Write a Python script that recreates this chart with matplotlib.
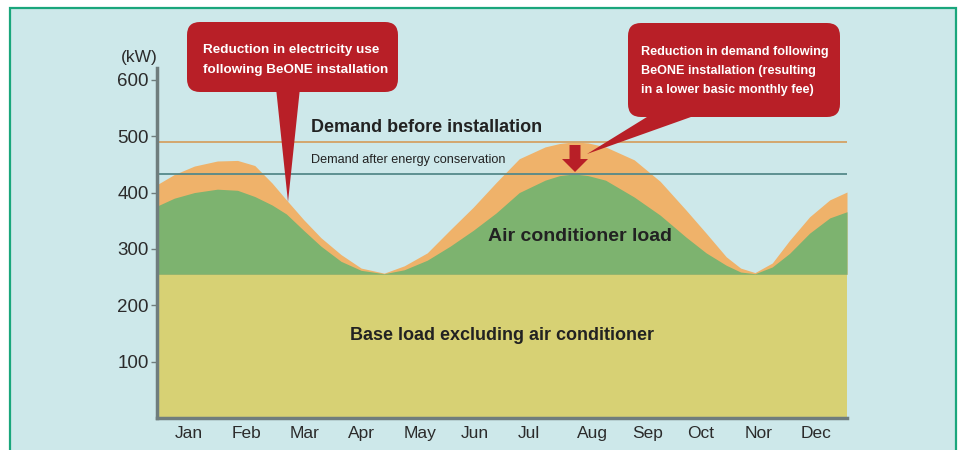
import numpy as np
import matplotlib.pyplot as plt
from matplotlib.patches import FancyBboxPatch, Polygon, Rectangle, FancyArrow

# --- data (x in months from start of Jan, kW) ---
months = ["Jan", "Feb", "Mar", "Apr", "May", "Jun", "Jul", "Aug", "Sep", "Oct", "Nor", "Dec"]
month_pos = [0.55, 1.55, 2.57, 3.55, 4.58, 5.53, 6.47, 7.57, 8.54, 9.45, 10.47, 11.47]

x = [0, 0.3, 0.65, 1.05, 1.4, 1.7, 2.0, 2.25, 2.55, 2.85, 3.2, 3.55, 3.95, 4.3, 4.7,
     5.1, 5.5, 5.9, 6.3, 6.75, 7.0, 7.25, 7.5, 7.8, 8.3, 8.75, 9.2, 9.55, 9.9, 10.15, 10.4,
     10.7, 11.0, 11.35, 11.7, 12.0]
ac_top = [376, 390, 400, 406, 404, 393, 378, 362, 333, 305, 278, 262, 256, 263, 280,
          305, 333, 364, 400, 422, 430, 433, 430, 422, 392, 360, 321, 293, 271, 259, 256,
          268, 292, 328, 355, 366]
demand_top = [414, 432, 447, 456, 457, 448, 417, 387, 352, 320, 290, 266, 257, 270, 293,
              334, 374, 418, 460, 481, 487, 490, 488, 481, 458, 420, 369, 328, 286, 266, 258,
              275, 315, 357, 387, 401]
base_load = 255
demand_before = 490
demand_after = 433
yticks = [100, 200, 300, 400, 500, 600]

bg = "#cde8ea"
red = "#b81f27"
font = "Liberation Sans"

fig = plt.figure(figsize=(9.58, 4.5), dpi=100)
fig.patch.set_facecolor("white")

# background panel with green frame (pixel coords)
back = fig.add_axes([0, 0, 1, 1], zorder=0)
back.set_xlim(0, 958)
back.set_ylim(450, 0)
back.axis("off")
back.add_patch(Rectangle((10, 8), 946, 450, facecolor=bg, edgecolor="#1aa67c", lw=1.6))

ax = fig.add_axes([157 / 958, 1 - 418 / 450, 690 / 958, 350 / 450], zorder=1)
ax.patch.set_alpha(0)

ax.fill_between([0, 12], 0, base_load, color="#d7d174", lw=0)
ax.fill_between(x, base_load, demand_top, color="#efb26a", lw=0)
ax.fill_between(x, base_load, ac_top, color="#7db36f", lw=0)

ax.hlines(demand_before, 0, 12, color="#d4a265", lw=1.3)
ax.hlines(demand_after, 0, 12, color="#55898a", lw=1.3)

ax.set_xlim(0, 12)
ax.set_ylim(0, 621)
ax.set_xticks(month_pos)
ax.set_xticklabels(months, fontsize=12.5, family=font, color="#2b2b2b")
ax.set_yticks(yticks)
ax.set_yticklabels([str(v) for v in yticks], fontsize=13.5, family=font, color="#2b2b2b")
ax.tick_params(axis="x", length=0, pad=6)
ax.tick_params(axis="y", length=4, width=1, color="#6f7d7d", pad=2)
for s in ["top", "right"]:
    ax.spines[s].set_visible(False)
for s in ["left", "bottom"]:
    ax.spines[s].set_color("#6f7d7d")
    ax.spines[s].set_linewidth(2.5)

ax.text(-0.31, 640, "(kW)", ha="center", va="center", fontsize=12.5,
        family=font, color="#2b2b2b", clip_on=False)

ax.text(2.67, 515, "Demand before installation", fontsize=13, fontweight="bold",
        family=font, color="#222222", va="center")
ax.text(2.67, 458, "Demand after energy conservation", fontsize=9.1,
        family=font, color="#222222", va="center")
ax.text(5.75, 322, "Air conditioner load", fontsize=14, fontweight="bold",
        family=font, color="#222222", va="center")
ax.text(6.0, 147, "Base load excluding air conditioner", fontsize=13, fontweight="bold",
        family=font, color="#222222", va="center", ha="center")

# callouts on top (pixel coords)
top = fig.add_axes([0, 0, 1, 1], zorder=3)
top.set_xlim(0, 958)
top.set_ylim(450, 0)
top.axis("off")
top.patch.set_alpha(0)

top.add_patch(Polygon([(276, 88), (300, 88), (288, 202)], closed=True, color=red, lw=0))
top.add_patch(FancyBboxPatch((187, 22), 211, 70, boxstyle="round,pad=0,rounding_size=13",
                             facecolor=red, edgecolor="none"))
top.text(203, 50, "Reduction in electricity use", color="white", fontsize=9.7,
         fontweight="bold", family=font, va="center")
top.text(203, 70, "following BeONE installation", color="white", fontsize=9.7,
         fontweight="bold", family=font, va="center")

top.add_patch(Polygon([(655, 112), (705, 112), (587, 154)], closed=True, color=red, lw=0))
top.add_patch(FancyBboxPatch((628, 23), 212, 94, boxstyle="round,pad=0,rounding_size=13",
                             facecolor=red, edgecolor="none"))
for i, line in enumerate(["Reduction in demand following",
                          "BeONE installation (resulting",
                          "in a lower basic monthly fee)"]):
    top.text(641, 52 + i * 19, line, color="white", fontsize=9.1, fontweight="bold",
             family=font, va="center")

top.add_patch(FancyArrow(575, 145, 0, 27, width=11, head_width=26, head_length=13,
                         length_includes_head=True, color=red, lw=0))

plt.savefig("out.png", dpi=100)
